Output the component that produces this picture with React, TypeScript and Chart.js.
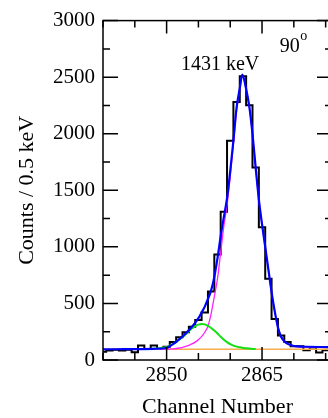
import React, { useEffect, useRef } from 'react';
import { Chart, registerables } from 'chart.js';

Chart.register(...registerables);

// ---- data ----
const histChannels = [
  2840, 2841, 2842, 2843, 2844, 2845, 2846, 2847, 2848, 2849,
  2850, 2851, 2852, 2853, 2854, 2855, 2856, 2857, 2858, 2859,
  2860, 2861, 2862, 2863, 2864, 2865, 2866, 2867, 2868, 2869,
  2870, 2871, 2872, 2873, 2874, 2875, 2876,
];
const histCounts = [
  72, 85, 90, 84, 90, 68, 128, 97, 128, 97,
  118, 160, 200, 246, 293, 354, 420, 605, 933, 1310,
  1937, 2281, 2507, 2252, 1702, 1174, 719, 363, 217, 159,
  122, 122, 87, 110, 67, 87, 90,
];

const totalFitX = [
  2840, 2842, 2844, 2846, 2848, 2849, 2850, 2850.5, 2851, 2851.5,
  2852, 2852.5, 2853, 2853.5, 2854, 2854.5, 2855, 2855.5, 2856, 2856.5,
  2857, 2857.5, 2858, 2858.5, 2859, 2859.5, 2860, 2860.5, 2861, 2861.5,
  2861.9, 2862.5, 2863, 2863.5, 2864, 2864.5, 2865, 2865.5, 2866, 2866.5,
  2867, 2867.5, 2868, 2868.5, 2869, 2869.5, 2870, 2871, 2872, 2874, 2876,
];
const totalFitY = [
  95, 95, 96, 97, 99, 101, 108, 122, 140, 160,
  185, 208, 235, 262, 295, 330, 370, 420, 472, 540,
  615, 735, 900, 1095, 1265, 1430, 1670, 1940, 2230, 2400,
  2522, 2395, 2240, 2000, 1700, 1420, 1200, 1000, 800, 600,
  430, 290, 205, 166, 145, 132, 124, 119, 117, 115, 114,
];

const mainPeakX = [
  2849, 2850, 2851, 2852, 2852.5, 2853, 2853.5, 2854, 2854.5, 2855,
  2855.5, 2856, 2856.5, 2857, 2857.5, 2858, 2858.5, 2859, 2859.5, 2860,
  2860.5, 2861, 2861.5, 2861.9, 2862.5, 2863, 2863.5, 2864, 2864.5, 2865,
  2865.5, 2866, 2866.5, 2867, 2867.5, 2868, 2868.5, 2869, 2870, 2872, 2876,
];
const mainPeakY = [
  95, 96, 99, 106, 112, 120, 130, 142, 158, 180,
  207, 245, 298, 410, 560, 720, 950, 1185, 1370, 1620,
  1905, 2210, 2390, 2518, 2392, 2237, 1997, 1697, 1417, 1197,
  997, 797, 597, 427, 287, 202, 163, 141, 121, 115, 113,
];

const smallPeakX = [
  2847, 2848, 2849, 2849.5, 2850, 2850.5, 2851, 2851.5, 2852, 2852.5,
  2853, 2853.5, 2854, 2854.5, 2855, 2855.5, 2856, 2856.5, 2857, 2857.5,
  2858, 2858.5, 2859, 2859.5, 2860, 2860.5, 2861, 2861.5, 2862, 2863, 2864,
];
const smallPeakY = [
  96, 99, 105, 110, 116, 127, 142, 160, 180, 203,
  228, 255, 280, 300, 313, 319, 315, 302, 283, 260,
  234, 206, 180, 158, 140, 127, 118, 112, 107, 101, 97,
];

const backgroundX = [2840, 2876];
const backgroundY = [95, 95];

// axis ticks
const xTickValues = [2840, 2845, 2850, 2855, 2860, 2865, 2870, 2875];
const xTickLabels = [2850, 2865];
const yTickValues = [0, 250, 500, 750, 1000, 1250, 1500, 1750, 2000, 2250, 2500, 2750, 3000];
const yTickLabels = [0, 500, 1000, 1500, 2000, 2500, 3000];

const peakLabel = '1431 keV';
const angleLabel = '90';
const SERIF = "'Liberation Serif', 'Times New Roman', serif";

const toXY = (xs: number[], ys: number[]) => xs.map((x, i) => ({ x, y: ys[i] }));

const framePlugin = {
  id: 'frameTicks',
  afterDatasetsDraw(chart: any) {
    const { ctx, chartArea: a, scales } = chart;
    const xs = scales.x;
    const ys = scales.y;
    ctx.save();
    ctx.strokeStyle = '#000';
    ctx.lineWidth = 1.5;
    ctx.strokeRect(a.left, a.top, a.right - a.left, a.bottom - a.top);
    ctx.beginPath();
    for (const v of xTickValues) {
      const px = xs.getPixelForValue(v);
      const len = xTickLabels.includes(v) ? 13 : 7;
      ctx.moveTo(px, a.bottom);
      ctx.lineTo(px, a.bottom - len);
      ctx.moveTo(px, a.top);
      ctx.lineTo(px, a.top + len);
    }
    for (const v of yTickValues) {
      const py = ys.getPixelForValue(v);
      const len = yTickLabels.includes(v) ? 15 : 7;
      ctx.moveTo(a.left, py);
      ctx.lineTo(a.left + len, py);
      ctx.moveTo(a.right, py);
      ctx.lineTo(a.right - len, py);
    }
    ctx.stroke();

    // annotations
    ctx.fillStyle = '#000';
    ctx.textBaseline = 'alphabetic';
    ctx.textAlign = 'center';
    ctx.font = `20px ${SERIF}`;
    ctx.fillText(peakLabel, xs.getPixelForValue(2858.4), ys.getPixelForValue(2560));
    ctx.textAlign = 'left';
    const ax = xs.getPixelForValue(2867.8);
    const ay = ys.getPixelForValue(2725);
    ctx.fillText(angleLabel, ax, ay);
    const w = ctx.measureText(angleLabel).width;
    ctx.font = `14px ${SERIF}`;
    ctx.fillText('o', ax + w + 0.5, ay - 11.5);
    ctx.restore();
  },
};

export default function App() {
  const ref = useRef<HTMLCanvasElement>(null);
  useEffect(() => {
    const canvas = ref.current;
    if (!canvas) return;
    const chart = new Chart(canvas, {
      type: 'line',
      data: {
        datasets: [
          {
            label: 'total fit',
            data: toXY(totalFitX, totalFitY),
            borderColor: '#0000ff',
            borderWidth: 2.2,
            pointRadius: 0,
            cubicInterpolationMode: 'monotone',
            fill: false,
          },
          {
            label: 'small peak',
            data: toXY(smallPeakX, smallPeakY),
            borderColor: '#12e012',
            borderWidth: 2,
            pointRadius: 0,
            cubicInterpolationMode: 'monotone',
            fill: false,
          },
          {
            label: 'main peak',
            data: toXY(mainPeakX, mainPeakY),
            borderColor: '#ff22ff',
            borderWidth: 1.3,
            pointRadius: 0,
            cubicInterpolationMode: 'monotone',
            fill: false,
          },
          {
            label: 'background',
            data: toXY(backgroundX, backgroundY),
            borderColor: '#f8ad4c',
            borderWidth: 1.6,
            pointRadius: 0,
            fill: false,
          },
          {
            label: 'data',
            data: toXY(histChannels, histCounts),
            borderColor: '#000000',
            borderWidth: 2,
            pointRadius: 0,
            stepped: 'middle',
            borderJoinStyle: 'miter',
            fill: false,
          },
        ],
      } as any,
      options: {
        animation: false,
        responsive: false,
        events: [],
        layout: { padding: { left: 0, top: 16, right: 8, bottom: 0 } },
        plugins: { legend: { display: false }, tooltip: { enabled: false } },
        scales: {
          x: {
            type: 'linear',
            min: 2840,
            max: 2876,
            grid: { display: false, drawTicks: false },
            border: { display: false },
            ticks: {
              stepSize: 5,
              includeBounds: false,
              autoSkip: false,
              maxRotation: 0,
              padding: 3,
              color: '#000',
              font: { family: SERIF, size: 21 },
              callback: (v: any) => (xTickLabels.includes(Number(v)) ? String(v) : ''),
            },
            title: {
              display: true,
              text: 'Channel Number',
              color: '#000',
              font: { family: SERIF, size: 22, lineHeight: 1 },
              padding: { top: 0, bottom: 0 },
            },
            afterFit: (s: any) => {
              s.height = 58;
            },
          },
          y: {
            type: 'linear',
            min: 0,
            max: 3000,
            grid: { display: false, drawTicks: false },
            border: { display: false },
            ticks: {
              stepSize: 500,
              padding: 8,
              color: '#000',
              font: { family: SERIF, size: 21 },
              callback: (v: any) => (yTickLabels.includes(Number(v)) ? String(v) : ''),
            },
            title: {
              display: true,
              text: 'Counts / 0.5 keV',
              color: '#000',
              font: { family: SERIF, size: 22 },
              padding: { top: 14, bottom: 0 },
            },
            afterFit: (s: any) => {
              s.width = 103;
            },
          },
        },
      } as any,
      plugins: [framePlugin],
    });
    return () => chart.destroy();
  }, []);

  return (
    <div
      style={{
        position: 'fixed',
        left: 0,
        top: 0,
        width: 328,
        height: 418,
        overflow: 'hidden',
        background: '#ffffff',
      }}
    >
      <canvas ref={ref} width={340} height={418} style={{ display: 'block' }} />
    </div>
  );
}
